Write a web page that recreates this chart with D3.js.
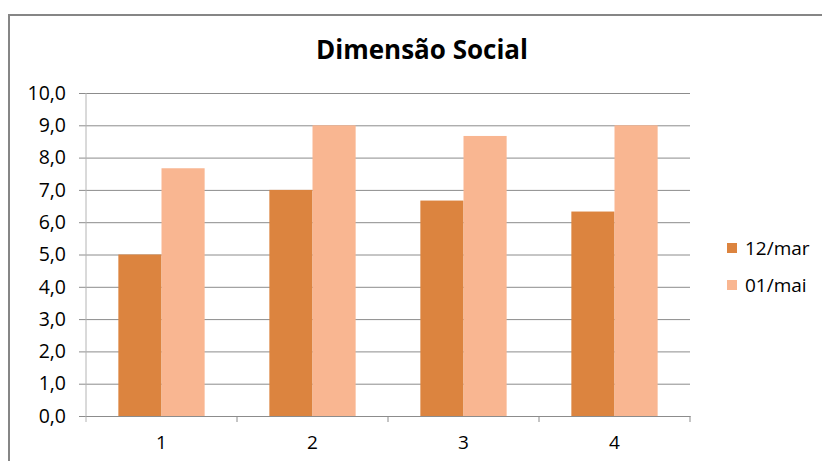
<!DOCTYPE html>
<html>
<head>
<meta charset="utf-8">
<script src="https://cdn.jsdelivr.net/npm/d3@7"></script>
<style>
  html, body { margin: 0; padding: 0; background: #fff; }
  svg { display: block; font-family: "Open Sans", sans-serif; }
</style>
</head>
<body>
<svg id="chart" width="822" height="461"></svg>
<script>
// Chart data
const categories = ["1", "2", "3", "4"];
const seriesNames = ["12/mar", "01/mai"];
const march = [5.0, 7.0, 6.67, 6.33];
const may = [7.67, 9.0, 8.67, 9.0];
const yTicks = [0, 1, 2, 3, 4, 5, 6, 7, 8, 9, 10];
const titleText = "Dimensão Social";

const colors = ["#DC843F", "#F9B691"];
const seriesValues = [march, may];
const FONT = "'Open Sans', sans-serif";

const svg = d3.select("#chart");

// Outer frame
svg.append("rect")
  .attr("x", 9).attr("y", 15)
  .attr("width", 830).attr("height", 470)
  .attr("fill", "#fff")
  .attr("stroke", "#868686")
  .attr("stroke-width", 2);

const plot = { left: 86, right: 690, top: 93, bottom: 416 };

const y = d3.scaleLinear().domain([0, 10]).range([plot.bottom, plot.top]);
const x0 = d3.scaleBand().domain(categories).range([plot.left, plot.right]).paddingInner(0).paddingOuter(0);
const barW = x0.bandwidth() / 3.5;
const x1 = d3.scaleBand().domain(seriesNames).range([0, barW * 2]);

// Title
svg.append("text")
  .attr("x", 422).attr("y", 59)
  .attr("text-anchor", "middle")
  .attr("font-size", 26).attr("font-weight", "bold")
  .attr("fill", "#000")
  .text(titleText);

// Gridlines and y axis
const yAxis = d3.axisLeft(y).tickValues(yTicks)
  .tickSize(-(plot.right - plot.left))
  .tickPadding(20)
  .tickFormat(d => d3.format(".1f")(d).replace(".", ","));
const gy = svg.append("g").attr("transform", `translate(${plot.left},0)`).call(yAxis);
gy.select(".domain").remove();
gy.selectAll(".tick line").attr("stroke", "#8c8c8c").attr("stroke-width", 1).attr("x1", -7);
gy.selectAll(".tick text").attr("font-size", 19.5).attr("fill", "#000")
  .attr("font-family", FONT);

// Bars
const groups = svg.append("g").selectAll("g")
  .data(categories).join("g")
  .attr("transform", d => `translate(${x0(d) + (x0.bandwidth() - barW * 2) / 2},0)`);
groups.selectAll("rect")
  .data((d, i) => seriesNames.map((s, k) => ({ s, v: seriesValues[k][i], k })))
  .join("rect")
  .attr("x", d => x1(d.s))
  .attr("width", x1.bandwidth())
  .attr("y", d => y(d.v))
  .attr("height", d => y(0) - y(d.v))
  .attr("fill", d => colors[d.k]);

// Y axis line
svg.append("line")
  .attr("x1", plot.left).attr("x2", plot.left)
  .attr("y1", plot.top).attr("y2", plot.bottom + 6)
  .attr("stroke", "#b4b4b4").attr("stroke-width", 1);

// X axis
const xAxis = d3.axisBottom(x0).tickSize(0).tickPadding(20);
const gx = svg.append("g").attr("transform", `translate(0,${plot.bottom})`).call(xAxis);
gx.select(".domain").attr("stroke", "#8c8c8c");
gx.selectAll(".tick text").attr("font-size", 19).attr("fill", "#000")
  .attr("font-family", FONT);
// Category separators
const sepPos = categories.slice(1).map(c => x0(c)).concat([plot.right]);
svg.append("g").selectAll("line").data(sepPos).join("line")
  .attr("x1", d => d).attr("x2", d => d)
  .attr("y1", plot.bottom).attr("y2", plot.bottom + 6)
  .attr("stroke", "#8c8c8c");

// Legend
const legend = svg.append("g").selectAll("g").data(seriesNames).join("g")
  .attr("transform", (d, i) => `translate(727,${243 + i * 37})`);
legend.append("rect").attr("width", 10).attr("height", 10)
  .attr("fill", (d, i) => colors[i]);
legend.append("text").attr("x", 18).attr("y", 12)
  .attr("font-size", 19).attr("fill", "#000").text(d => d);
</script>
</body>
</html>
